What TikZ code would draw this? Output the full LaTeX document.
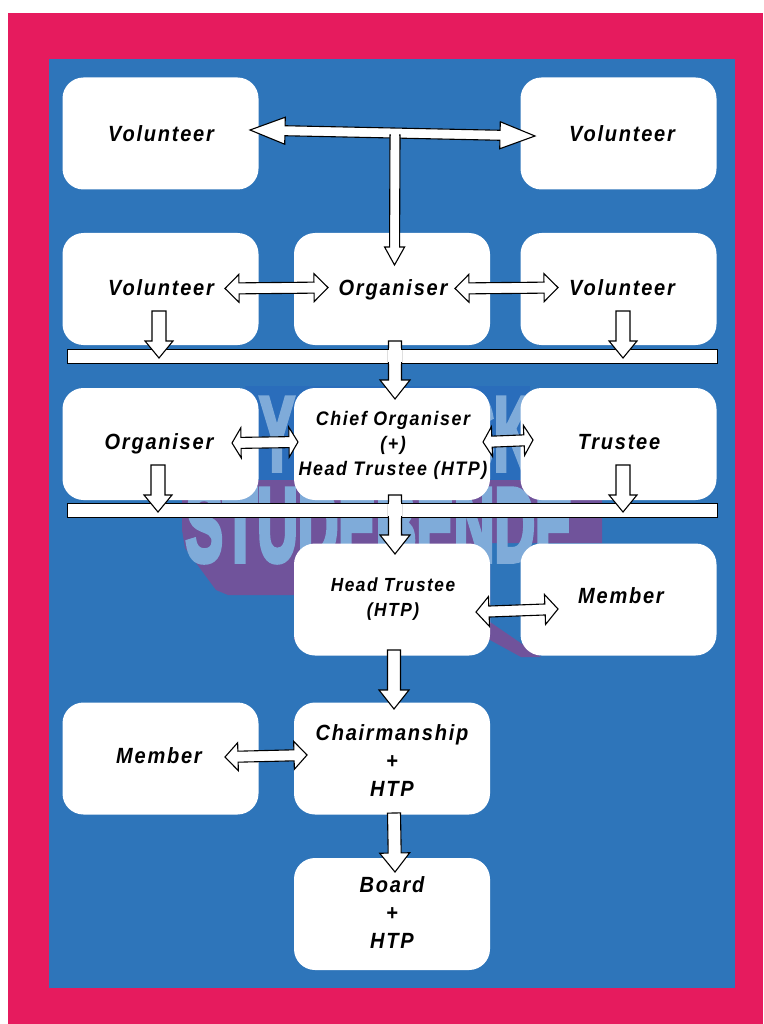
\documentclass[tikz,border=0pt]{standalone}
\usepackage{fontspec}
\setmainfont{Liberation Sans}
\newfontfamily\labfont[LetterSpace=8,FakeStretch=.91]{Liberation Sans}
\newfontfamily\wmfont[BoldFeatures={FakeBold=5}]{Liberation Sans}
\usetikzlibrary{calc}
\definecolor{framered}{HTML}{E61B5E}
\definecolor{panelblue}{HTML}{2E75BA}
\definecolor{markblue}{HTML}{2A6DBB}
\definecolor{markpurple}{HTML}{70539B}
\definecolor{markpale}{HTML}{7FABD9}
\tikzset{
  x=1pt,y=-1pt,
  box/.style={fill=white,rounded corners=21pt,minimum width=196pt,minimum height=112pt,inner sep=0pt},
  lab/.style={font=\labfont\bfseries\itshape\fontsize{22}{27}\selectfont,align=center,inner sep=0pt,text=black},
  labs/.style={lab,font=\labfont\bfseries\itshape\fontsize{19.6}{25}\selectfont},
  bar/.style={draw=black,fill=white,line width=1pt},
  wmark/.style={font=\wmfont\bfseries\fontsize{105}{105}\selectfont,text=markpale,inner sep=0pt},
  fatone/.style n args={3}{draw=black,fill=white,line width=1.1pt,line join=miter,
    to path={
      ($(\tikztostart)!#3!90:(\tikztotarget)$)
      -- ($(\tikztotarget)!#1!(\tikztostart)!#3!-90:(\tikztostart)$)
      -- ($(\tikztotarget)!#1!(\tikztostart)!#2!-90:(\tikztostart)$)
      -- (\tikztotarget)
      -- ($(\tikztotarget)!#1!(\tikztostart)!#2!90:(\tikztostart)$)
      -- ($(\tikztotarget)!#1!(\tikztostart)!#3!90:(\tikztostart)$)
      -- ($(\tikztostart)!#3!-90:(\tikztotarget)$) -- cycle}},
  fattwo/.style n args={3}{draw=black,fill=white,line width=1.1pt,line join=miter,
    to path={
      (\tikztostart)
      -- ($(\tikztostart)!#1!(\tikztotarget)!#2!90:(\tikztotarget)$)
      -- ($(\tikztostart)!#1!(\tikztotarget)!#3!90:(\tikztotarget)$)
      -- ($(\tikztotarget)!#1!(\tikztostart)!#3!-90:(\tikztostart)$)
      -- ($(\tikztotarget)!#1!(\tikztostart)!#2!-90:(\tikztostart)$)
      -- (\tikztotarget)
      -- ($(\tikztotarget)!#1!(\tikztostart)!#2!90:(\tikztostart)$)
      -- ($(\tikztotarget)!#1!(\tikztostart)!#3!90:(\tikztostart)$)
      -- ($(\tikztostart)!#1!(\tikztotarget)!#3!-90:(\tikztotarget)$)
      -- ($(\tikztostart)!#1!(\tikztotarget)!#2!-90:(\tikztotarget)$)
      -- cycle}},
}
\begin{document}
\begin{tikzpicture}
\useasboundingbox (0,0) rectangle (763,1024);
\fill[framered] (8,13) rectangle (763,1024);
\fill[panelblue] (48.6,59) rectangle (735,988);
% watermark
\fill[markblue] (245,386) rectangle (530,482);
\fill[markpurple] (182,480) -- (602,480) -- (602,543) -- (490,543) -- (490,622) -- (541,657) -- (521,657) -- (490,640)
  -- (294,640) -- (294,595) -- (228,595) -- (216,590) -- (185,548) -- (182,530) -- cycle;
\node[wmark,xscale=.535,anchor=center] (markb) at (379,525) {STUDEBENDE};
\node[wmark,xscale=.5,anchor=center] (marky) at (277,434) {Y};
\node[wmark,xscale=.5,anchor=east] (markk) at (532,434) {CK};
% boxes
\node[box] (v1) at (160.5,133.5) {};
\node[box] (v2) at (618.5,133.5) {};
\node[box] (v3) at (160.5,289) {};
\node[box] (o1) at (392,289) {};
\node[box] (v4) at (618.5,289) {};
\node[box] (o2) at (160.5,444) {};
\node[box] (co) at (392,444) {};
\node[box] (t1) at (618.5,444) {};
\node[box] (ht) at (392,599.5) {};
\node[box] (m1) at (618.5,599.5) {};
\node[box] (m2) at (160.5,758.5) {};
\node[box] (ch) at (392,758.5) {};
\node[box] (bd) at (392,914) {};
% bars
\node[bar,minimum width=650pt,minimum height=14pt,inner sep=0pt] (b1) at (392,356) {};
\node[bar,minimum width=650pt,minimum height=14pt,inner sep=0pt] (b2) at (392,510) {};
% end points
\coordinate (a1) at (250,130); \coordinate (a2) at (535,136);
\coordinate (a3) at (395,135); \coordinate (a4) at (394.5,265);
\coordinate (c1) at (225,288.5); \coordinate (c2) at (328,287.5);
\coordinate (c3) at (455,288.5); \coordinate (c4) at (558,287.5);
\coordinate (d1) at (159,311); \coordinate (d2) at (159,358);
\coordinate (d3) at (623,311); \coordinate (d4) at (623,358);
\coordinate (e1) at (395,341); \coordinate (e2) at (395,399);
\coordinate (f1) at (232,443); \coordinate (f2) at (298,442);
\coordinate (f3) at (483,442); \coordinate (f4) at (533,440);
\coordinate (g1) at (158,465); \coordinate (g2) at (158,512);
\coordinate (g3) at (623,465); \coordinate (g4) at (623,512);
\coordinate (h1) at (395,495); \coordinate (h2) at (395,554);
\coordinate (i1) at (476,612); \coordinate (i2) at (558,609);
\coordinate (j1) at (394,650); \coordinate (j2) at (394,709);
\coordinate (k1) at (225,757); \coordinate (k2) at (307,755);
\coordinate (l1) at (394,813); \coordinate (l2) at (395,872);
% connectors
\draw[fattwo={35pt}{13.5pt}{5pt}] (a1) to (a2);
\draw[fatone={18pt}{10pt}{5pt}] (a3) to (a4);
\fill[white] (391,134) rectangle (399,141);
\draw[fattwo={14pt}{14pt}{5.5pt}] (c1) to (c2);
\draw[fattwo={14pt}{14pt}{5.5pt}] (c3) to (c4);
\draw[fatone={17pt}{14pt}{7pt}] (d1) to (d2);
\draw[fatone={17pt}{14pt}{7pt}] (d3) to (d4);
\draw[fatone={19pt}{15pt}{6.5pt}] (e1) to (e2);
\fill[white] (388,349.7) rectangle (402,362.3);
\fill[white] (389,348) rectangle (401,364);
\draw[fattwo={9pt}{15pt}{5.5pt}] (f1) to (f2);
\draw[fattwo={9pt}{15pt}{5.5pt}] (f3) to (f4);
\draw[fatone={17pt}{14pt}{7pt}] (g1) to (g2);
\draw[fatone={17pt}{14pt}{7pt}] (g3) to (g4);
\draw[fatone={19pt}{15pt}{6.5pt}] (h1) to (h2);
\fill[white] (388,503.7) rectangle (402,516.3);
\fill[white] (389,502) rectangle (401,518);
\draw[fattwo={13pt}{15pt}{5.5pt}] (i1) to (i2);
\draw[fatone={19pt}{15pt}{6.5pt}] (j1) to (j2);
\draw[fattwo={13pt}{14pt}{5.5pt}] (k1) to (k2);
\draw[fatone={19pt}{15pt}{6.5pt}] (l1) to (l2);
% labels
\node[lab] (tv1) at (161,134) {Volunteer};
\node[lab] (tv2) at (622,134) {Volunteer};
\node[lab] (tv3) at (161,288) {Volunteer};
\node[lab] (to1) at (393,290) {Organiser};
\node[lab] (tv4) at (622,288) {Volunteer};
\node[lab] (to2) at (159,444) {Organiser};
\node[labs] (tco) at (393,445) {Chief Organiser\\(+)\\Head Trustee (HTP)};
\node[lab] (tt1) at (619,442) {Trustee};
\node[labs,font=\labfont\bfseries\itshape\fontsize{19}{25}\selectfont] (tht) at (393,599) {Head Trustee\\(HTP)};
\node[lab] (tm1) at (621,596) {Member};
\node[lab] (tm2) at (159,756) {Member};
\node[lab,font=\labfont\bfseries\itshape\fontsize{22}{28}\selectfont] (tch) at (392,761) {Chairmanship\\+\\HTP};
\node[lab,font=\labfont\bfseries\itshape\fontsize{22}{28}\selectfont] (tbd) at (392,913) {Board\\+\\HTP};
\end{tikzpicture}
\end{document}
